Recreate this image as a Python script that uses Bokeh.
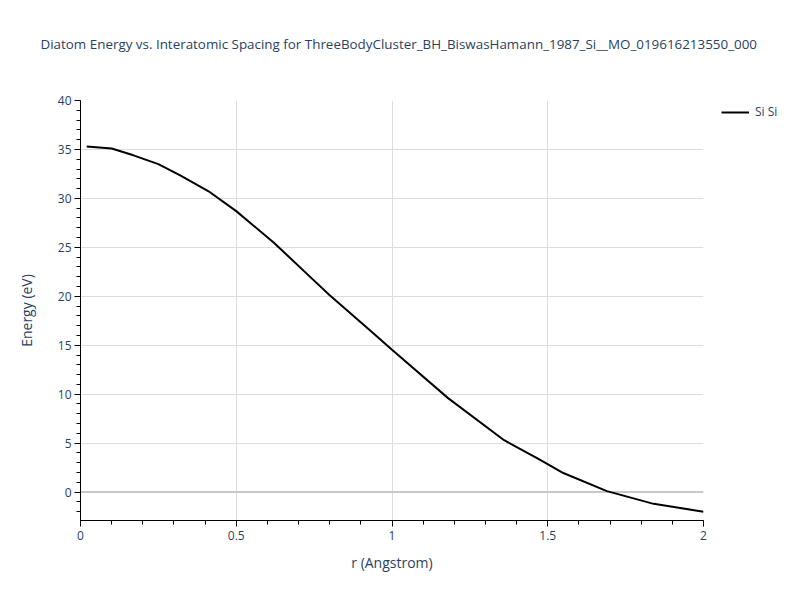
from bokeh.plotting import figure
from bokeh.models import Range1d, FixedTicker, Legend, LegendItem, Span, Title
from bokeh.embed import file_html
from bokeh.resources import INLINE

r_vals = [0.02, 0.1, 0.17, 0.25, 0.32, 0.41, 0.5, 0.62, 0.75, 0.8, 0.93, 1.0,
          1.18, 1.36, 1.47, 1.55, 1.69, 1.84, 2.0]
energy = [35.3, 35.1, 34.4, 33.5, 32.35, 30.75, 28.7, 25.5, 21.6, 20.1, 16.5, 14.55,
          9.6, 5.3, 3.4, 1.95, 0.1, -1.2, -2.0]
series_name = "Si Si"
title_text = "Diatom Energy vs. Interatomic Spacing for ThreeBodyCluster_BH_BiswasHamann_1987_Si__MO_019616213550_000"

FONT = "Open Sans"
TXT = "#2a3f5f"

p = figure(frame_width=623, frame_height=420,
           min_border_left=80, min_border_right=10, min_border_top=100, min_border_bottom=80,
           x_range=Range1d(0, 2), y_range=Range1d(-2.9, 40),
           output_backend="svg", toolbar_location=None,
           background_fill_color="white", border_fill_color="white")

p.title.text = title_text
p.title.align = "left"
p.title.text_font = FONT
p.title.text_font_size = "13.4px"
p.title.text_font_style = "normal"
p.title.text_color = TXT
p.title.offset = -40
p.title.standoff = 10

spacer = Title(text=" ", text_font=FONT, text_font_size="13.4px", standoff=23)
p.add_layout(spacer, "above")

p.outline_line_color = None

line = p.line(r_vals, energy, line_color="black", line_width=2)

# axes
p.xaxis.ticker = FixedTicker(ticks=[0, 0.5, 1, 1.5, 2],
                             minor_ticks=[i / 10 for i in range(0, 21)])
p.yaxis.ticker = FixedTicker(ticks=[0, 5, 10, 15, 20, 25, 30, 35, 40],
                             minor_ticks=list(range(-2, 41)))
p.xaxis.major_label_overrides = {0: "0", 0.5: "0.5", 1: "1", 1.5: "1.5", 2: "2"}
for ax in (p.xaxis, p.yaxis):
    ax.axis_line_color = "black"
    ax.axis_line_width = 1
    ax.major_tick_line_color = "black"
    ax.minor_tick_line_color = "black"
    ax.major_tick_out = 6
    ax.major_tick_in = 0
    ax.minor_tick_out = 4
    ax.minor_tick_in = 0
    ax.major_label_text_font = FONT
    ax.major_label_text_font_size = "12px"
    ax.major_label_text_color = TXT
    ax.axis_label_text_font = FONT
    ax.axis_label_text_font_size = "14px"
    ax.axis_label_text_font_style = "normal"
    ax.axis_label_text_color = TXT
p.xaxis.axis_label = "r (Angstrom)"
p.yaxis.axis_label = "Energy (eV)"
p.xaxis.major_label_standoff = 4
p.yaxis.major_label_standoff = 3
p.xaxis.axis_label_standoff = 10
p.yaxis.axis_label_standoff = 19

p.xgrid.grid_line_color = "#dddddd"
p.ygrid.grid_line_color = "#dddddd"
p.xgrid.grid_line_width = 1
p.ygrid.grid_line_width = 1
p.ygrid.ticker = FixedTicker(ticks=[5, 10, 15, 20, 25, 30, 35, 40])
p.xgrid.ticker = FixedTicker(ticks=[0.5, 1, 1.5])

zero = Span(location=0, dimension="width", line_color="#c8c8c8", line_width=2, level="underlay")
p.add_layout(zero)

legend = Legend(items=[LegendItem(label=series_name, renderers=[line])],
                location=(18, 400), orientation="vertical",
                background_fill_alpha=0, border_line_alpha=0,
                label_text_font=FONT, label_text_font_size="12px", label_text_color=TXT,
                glyph_width=28, glyph_height=12, label_height=12, label_standoff=6,
                padding=0, margin=0)
p.add_layout(legend, "right")

open("out.html", "w").write(file_html(p, INLINE))
